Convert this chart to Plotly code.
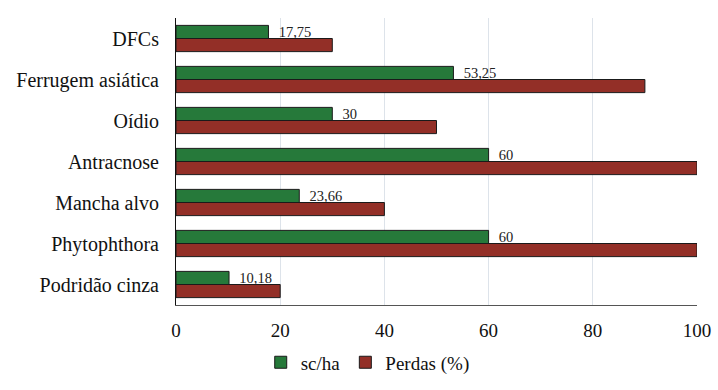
import plotly.graph_objects as go

categories = ["DFCs", "Ferrugem asiática", "Oídio", "Antracnose", "Mancha alvo", "Phytophthora", "Podridão cinza"]
sc_ha = [17.75, 53.25, 30, 60, 23.66, 60, 10.18]
perdas = [30, 90, 50, 100, 40, 100, 20]
x_ticks = [0, 20, 40, 60, 80, 100]

FONT = "'Liberation Serif', 'Times New Roman', serif"

fig = go.Figure()
fig.add_trace(go.Bar(
    y=categories, x=sc_ha, orientation="h", name="sc/ha",
    marker=dict(color="#26793a", line=dict(color="#1a1a1a", width=1)),
    texttemplate="\u00a0\u00a0%{x}", textposition="outside", cliponaxis=False,
    constraintext="none",
    textfont=dict(family=FONT, size=14.5, color="#222"),
))
fig.add_trace(go.Bar(
    y=categories, x=perdas, orientation="h", name="Perdas (%)",
    marker=dict(color="#932f27", line=dict(color="#1a1a1a", width=1)),
))

fig.update_layout(
    width=718, height=390,
    margin=dict(l=176, r=21, t=18, b=85, autoexpand=False),
    paper_bgcolor="white", plot_bgcolor="white",
    barmode="group", bargap=0.36, bargroupgap=0,
    separators=",.",
    font=dict(family=FONT, size=19, color="#111"),
    showlegend=True,
    legend=dict(orientation="h", x=0.368, xanchor="center", y=-0.2, yanchor="middle",
                font=dict(family=FONT, size=19), itemwidth=30, traceorder="normal"),
)
fig.update_xaxes(range=[0, 100], tickvals=x_ticks, showgrid=True, gridcolor="#dde3ea",
                 gridwidth=1, showline=True, linecolor="#555", linewidth=1,
                 ticks="", ticklabelstandoff=8, zeroline=False,
                 tickfont=dict(family=FONT, size=19))
fig.update_yaxes(autorange="reversed", showline=True, linecolor="#111", linewidth=1,
                 ticks="", ticklabelstandoff=12, showgrid=False,
                 tickfont=dict(family=FONT, size=20))

fig.write_html("out.html", config={"displayModeBar": False},
               post_script="document.body.style.margin='0';")
